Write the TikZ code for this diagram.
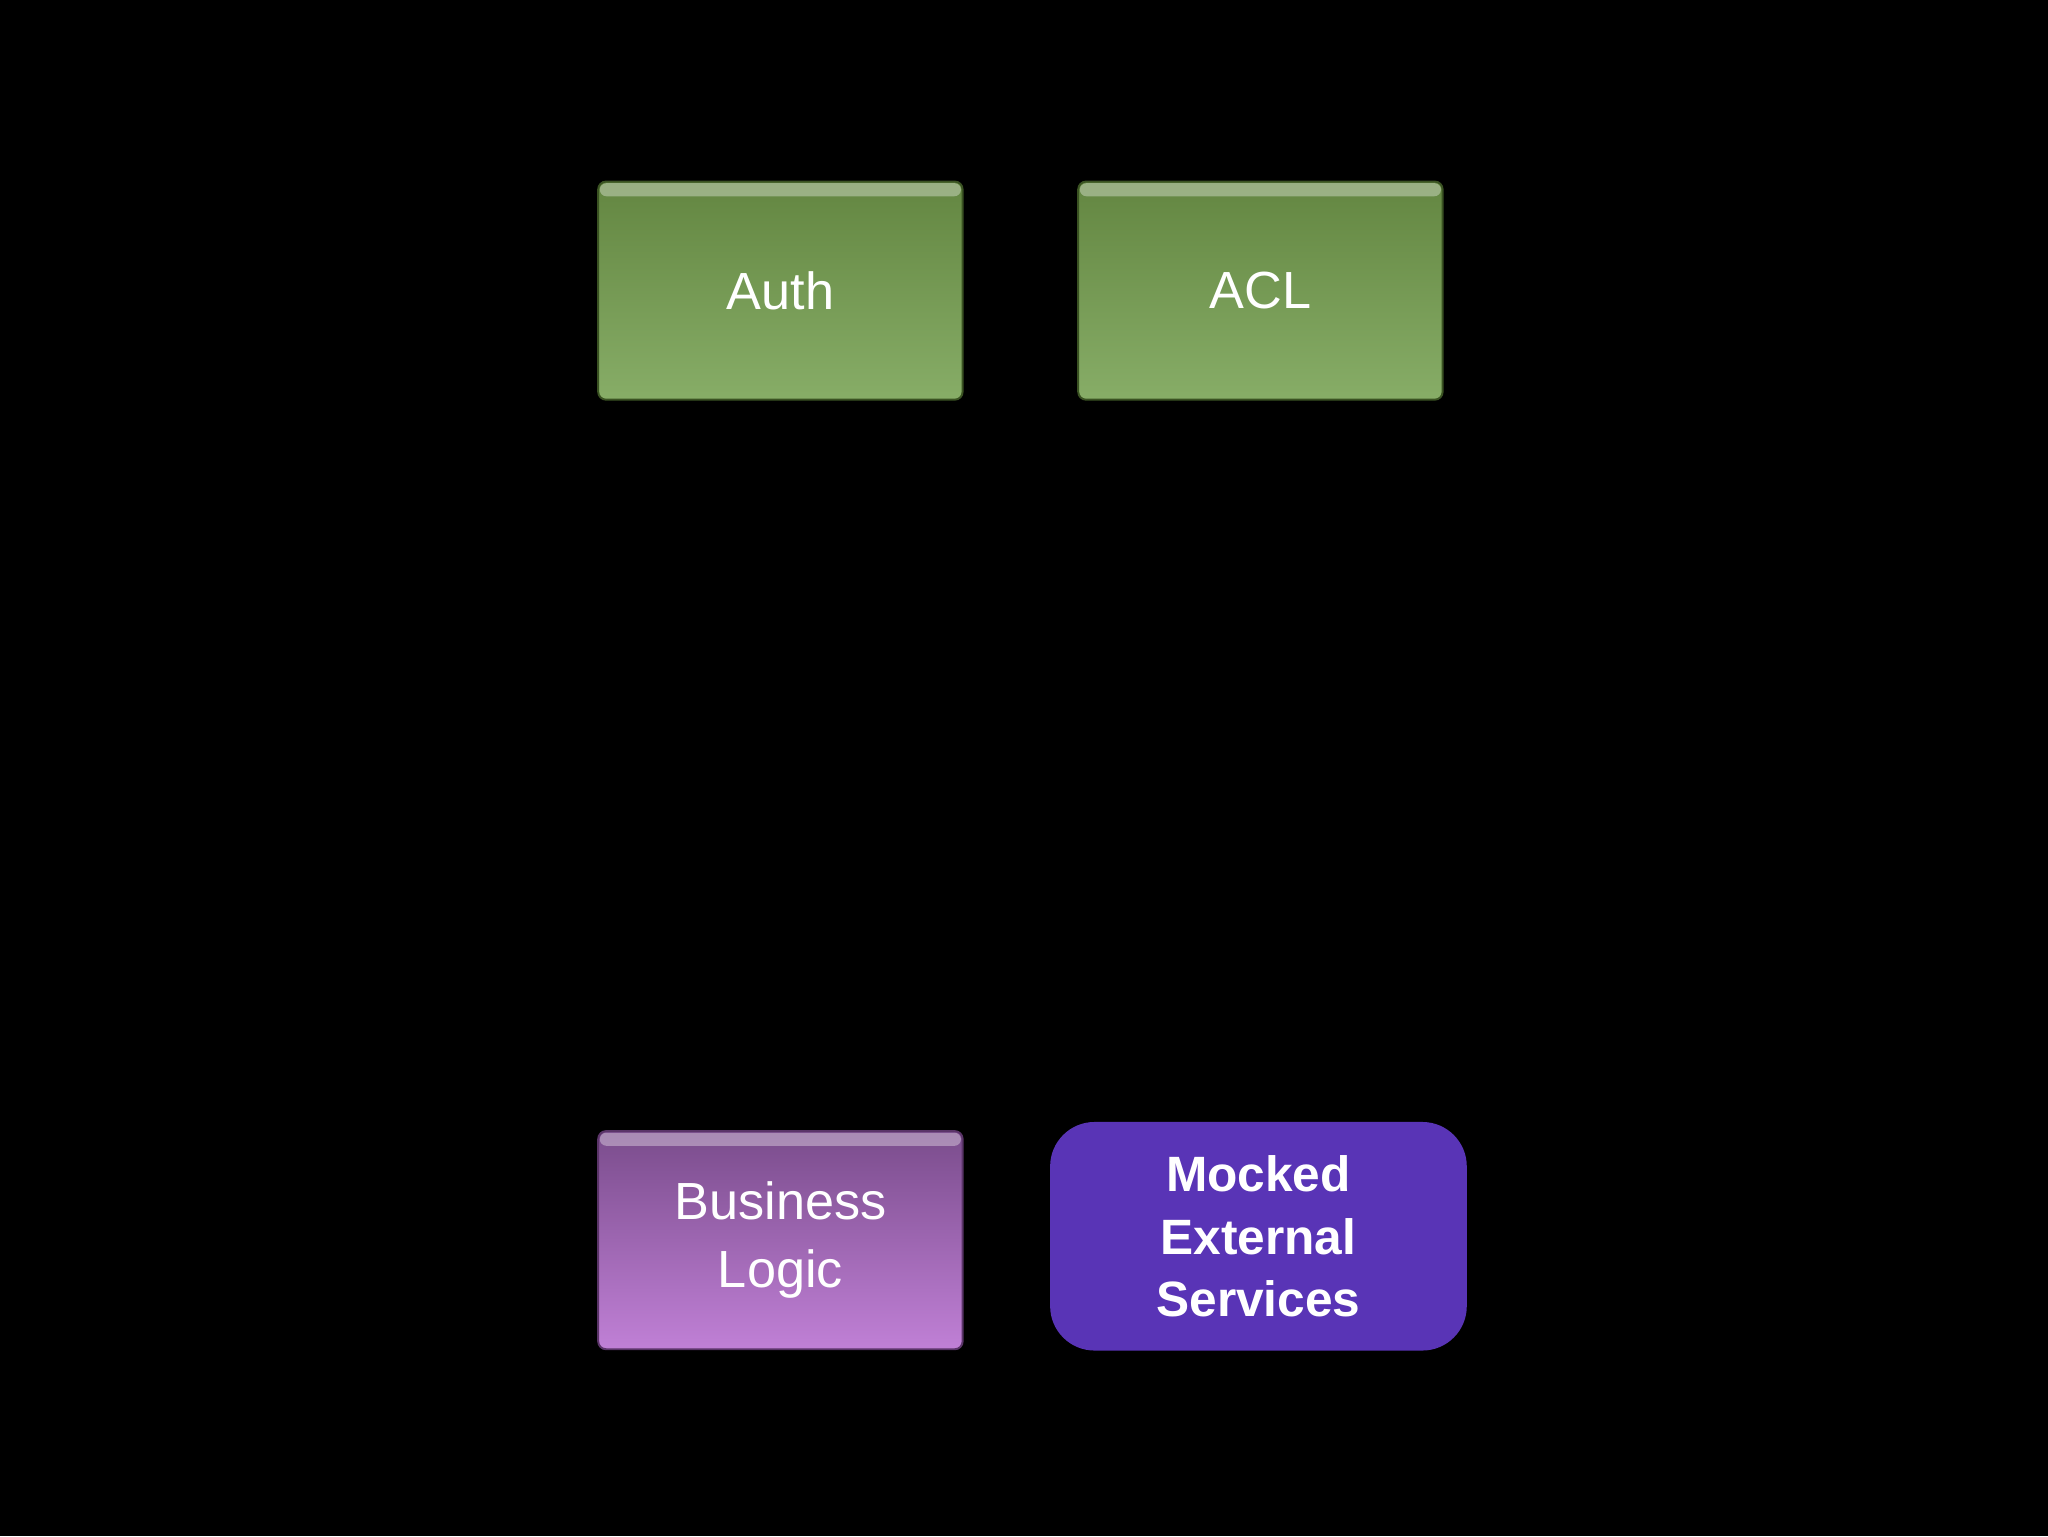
\documentclass[tikz,border=0pt]{standalone}
\usepackage{fontspec}
\setmainfont{Liberation Sans}
\definecolor{gtop}{HTML}{638641}
\definecolor{gbot}{HTML}{87AD67}
\definecolor{gedge}{HTML}{3A5222}
\definecolor{ptop}{HTML}{7A4C8C}
\definecolor{pbot}{HTML}{C080D6}
\definecolor{pedge}{HTML}{5A3468}
\definecolor{mock}{HTML}{5934B6}
\tikzset{
  greenbox/.style={rectangle, rounded corners=6pt, minimum width=279pt, minimum height=167pt,
    draw=gedge, line width=1.5pt, top color=gtop, bottom color=gbot, text=white,
    font=\fontsize{40}{48}\selectfont, align=center},
  purplebox/.style={rectangle, rounded corners=6pt, minimum width=279pt, minimum height=167pt,
    draw=pedge, line width=1.5pt, top color=ptop, bottom color=pbot, text=white,
    font=\fontsize{40}{52}\selectfont, align=center},
  mockbox/.style={rectangle, rounded corners=34pt, minimum width=319pt, minimum height=175pt,
    fill=mock, text=white, font=\bfseries\fontsize{38}{48}\selectfont, align=center}
}
\begin{document}
\begin{tikzpicture}[x=1pt,y=-1pt]
\fill[black] (0,0) rectangle (1568,1176);
\useasboundingbox (0,0) rectangle (1568,1176);
\node[greenbox] (auth) at (597.5,222.5) {Auth};
\node[greenbox] (acl) at (965,222.5) {ACL};
\node[purplebox] (bl) at (597.5,949.5) {Business\\Logic};
\node[mockbox] (mock) at (963.5,946.5) {Mocked\\External\\Services};
\foreach \n/\c in {auth/white, acl/white, bl/white}{
  \fill[\c, opacity=0.35, rounded corners=5pt] ([xshift=2pt,yshift=-2pt]\n.north west) rectangle ([xshift=-2pt,yshift=-12pt]\n.north east);
}
\end{tikzpicture}
\end{document}
